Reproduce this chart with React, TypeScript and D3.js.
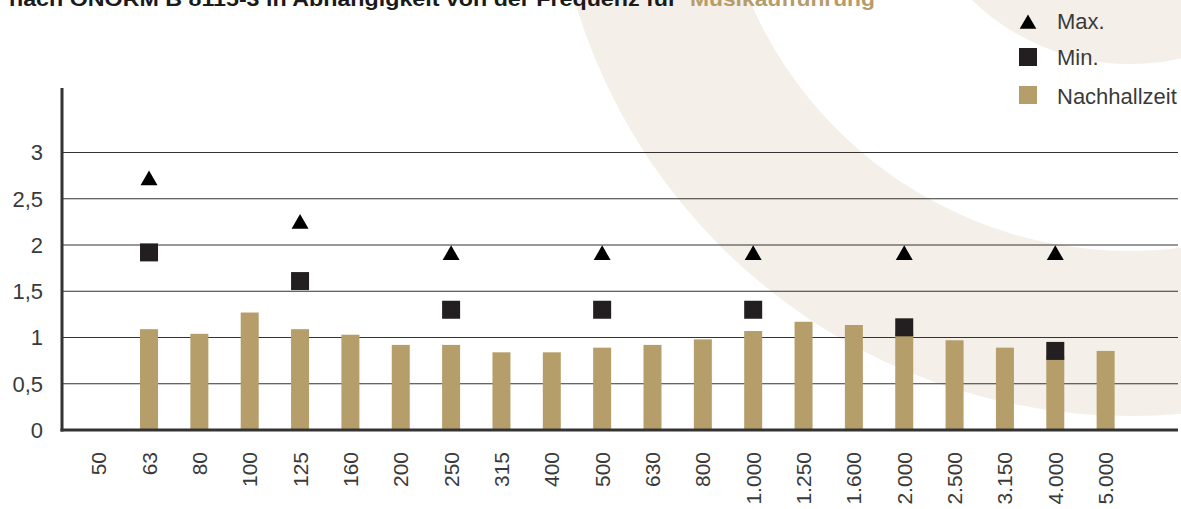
import React from "react";
import * as d3 from "d3";

const categories = ["50", "63", "80", "100", "125", "160", "200", "250", "315", "400", "500", "630", "800", "1.000", "1.250", "1.600", "2.000", "2.500", "3.150", "4.000", "5.000"];
const reverbTime: (number | null)[] = [null, 1.09, 1.04, 1.27, 1.09, 1.03, 0.92, 0.92, 0.84, 0.84, 0.89, 0.92, 0.98, 1.07, 1.17, 1.135, 1.05, 0.97, 0.89, 0.8, 0.855];
const limitCategories = ["63", "125", "250", "500", "1.000", "2.000", "4.000"];
const maxValues = [2.7, 2.23, 1.89, 1.89, 1.89, 1.89, 1.89];
const minValues = [1.92, 1.61, 1.3, 1.3, 1.3, 1.11, 0.855];
const yTicks = [0, 0.5, 1, 1.5, 2, 2.5, 3];
const yTickLabels = ["0", "0,5", "1", "1,5", "2", "2,5", "3"];
const legendLabels = ["Max.", "Min.", "Nachhallzeit"];
const titleMain = "nach ÖNORM B 8115-3 in Abhängigkeit von der Frequenz für";
const titleAccent = "Musikaufführung";

const W = 1181;
const H = 509;
const GOLD = "#b69e6b";
const DARK = "#231f20";
const BEIGE = "#f4efe8";
const FONT = "'Liberation Sans', Arial, sans-serif";

export default function App() {
  const x = d3.scaleBand<string>().domain(categories).range([73.5, 1130.8]).padding(0);
  const y = d3.scaleLinear().domain([0, 3]).range([430, 152.5]);
  const barW = 18;
  const cx = (c: string) => (x(c) as number) + x.bandwidth() / 2;
  const tri = d3.symbol().type(d3.symbolTriangle).size(125)() as string;
  const triLegend = d3.symbol().type(d3.symbolTriangle).size(120)() as string;

  const ringCenter = [1130, -163];
  const disc = d3.arc()({ innerRadius: 0, outerRadius: 227, startAngle: 0, endAngle: 2 * Math.PI } as any) as string;
  const ring = d3.arc()({ innerRadius: 414, outerRadius: 579, startAngle: 0, endAngle: 2 * Math.PI } as any) as string;

  const axisLeft = 62;
  const axisRight = 1178;

  return (
    <svg width={W} height={H} style={{ position: "absolute", left: 0, top: 0, background: "#fff" }} fontFamily={FONT}>
      <g transform={`translate(${ringCenter[0]},${ringCenter[1]})`}>
        <path d={disc} fill={BEIGE} />
        <path d={ring} fill={BEIGE} />
      </g>

      <text x={9} y={6} fontSize={20} fontWeight="bold" fill="#1a1a1a" textLength={668} lengthAdjust="spacingAndGlyphs">{titleMain}</text>
      <text x={690} y={6} fontSize={20} fontWeight="bold" fill="#b59c6a" textLength={185} lengthAdjust="spacingAndGlyphs">{titleAccent}</text>

      {/* gridlines */}
      {yTicks.filter((t) => t > 0).map((t) => (
        <line key={t} x1={axisLeft} x2={axisRight} y1={y(t)} y2={y(t)} stroke="#333" strokeWidth={1} />
      ))}

      {/* y labels */}
      {yTicks.map((t, i) => (
        <text key={t} x={43} y={y(t)} dy="0.36em" textAnchor="end" fontSize={22} fill="#3a3a3a">{yTickLabels[i]}</text>
      ))}

      {/* bars */}
      {categories.map((c, i) =>
        reverbTime[i] == null ? null : (
          <rect key={c} x={cx(c) - barW / 2} y={y(reverbTime[i] as number)} width={barW} height={y(0) - y(reverbTime[i] as number)} fill={GOLD} />
        )
      )}

      {/* min squares */}
      {limitCategories.map((c, i) => (
        <rect key={"min" + c} x={cx(c) - 9} y={y(minValues[i]) - 9} width={18} height={18} fill={DARK} />
      ))}

      {/* max triangles */}
      {limitCategories.map((c, i) => (
        <path key={"max" + c} d={tri} transform={`translate(${cx(c)},${y(maxValues[i])})`} fill="#000" />
      ))}

      {/* axes */}
      <line x1={axisLeft} x2={axisLeft} y1={88} y2={431.5} stroke="#333" strokeWidth={3} />
      <line x1={axisLeft - 1.5} x2={axisRight} y1={430} y2={430} stroke="#333" strokeWidth={3} />

      {/* x labels */}
      {categories.map((c) => (
        <text key={"xl" + c} transform={`translate(${cx(c)},452) rotate(-90)`} dy="0.36em" textAnchor="end" fontSize={21} fill="#3a3a3a">{c}</text>
      ))}

      {/* legend */}
      <g>
        <path d={triLegend} transform="translate(1028,24)" fill="#000" />
        <text x={1057} y={28.5} fontSize={22} fill="#3a3a3a">{legendLabels[0]}</text>
        <rect x={1019} y={48} width={18} height={18} fill={DARK} />
        <text x={1057} y={65} fontSize={22} fill="#3a3a3a">{legendLabels[1]}</text>
        <rect x={1019} y={86} width={18} height={18} fill={GOLD} />
        <text x={1057} y={103.5} fontSize={22} fill="#3a3a3a">{legendLabels[2]}</text>
      </g>
    </svg>
  );
}
